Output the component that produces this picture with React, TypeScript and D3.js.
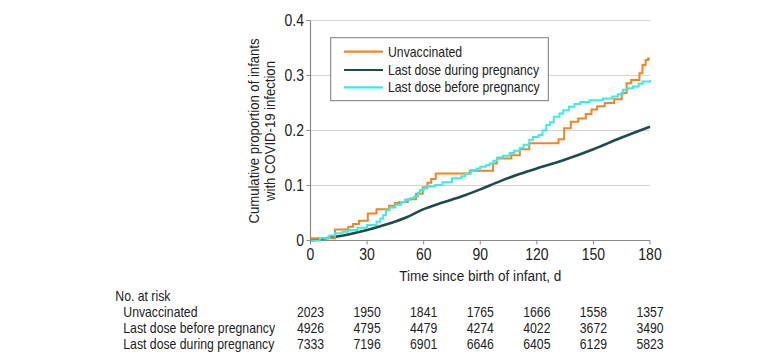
import React from "react";
import * as d3 from "d3";

type Pt = [number, number];

const xTicks = [0, 30, 60, 90, 120, 150, 180];
const yTicks = [0, 0.1, 0.2, 0.3, 0.4];

// [day, cumulative proportion]
const unvaccinated: Pt[] = [
  [0, 0.004], [13, 0.02], [20, 0.025], [22.5, 0.03], [25.7, 0.036], [30.4, 0.049],
  [35, 0.057], [41.6, 0.063], [44.7, 0.068], [47, 0.07], [51.6, 0.075], [56, 0.085],
  [59.5, 0.097], [62, 0.105], [64, 0.112], [66.4, 0.122], [84.5, 0.127], [96.8, 0.14],
  [98.8, 0.149], [106.5, 0.155], [111, 0.166], [116, 0.177], [131.5, 0.184],
  [134.5, 0.204], [138, 0.216], [142, 0.222], [146, 0.23], [149, 0.238], [152, 0.244],
  [156, 0.25], [161, 0.257], [165, 0.268], [167.6, 0.286], [170, 0.292], [174.4, 0.304],
  [176, 0.319], [177.7, 0.328], [179, 0.331], [180, 0.331],
];

const beforePregnancy: Pt[] = [
  [0, 0], [5, 0.004], [10, 0.009], [13, 0.013], [17, 0.016], [20, 0.019], [25, 0.023],
  [30, 0.028], [35, 0.034], [37, 0.04], [38.5, 0.046], [40, 0.055], [42, 0.06],
  [45, 0.065], [48, 0.07], [50, 0.074], [53, 0.077], [55, 0.08], [57, 0.087],
  [58, 0.092], [60, 0.095], [62, 0.098], [66, 0.101], [70, 0.106], [75, 0.113],
  [80, 0.117], [82, 0.122], [85, 0.128], [88, 0.131], [90, 0.134], [93, 0.137],
  [95, 0.14], [97, 0.145], [99, 0.151], [102, 0.154], [105.6, 0.159], [108, 0.163],
  [111, 0.168], [113, 0.174], [116, 0.183], [118, 0.188], [121, 0.192], [123, 0.2],
  [125, 0.21], [127, 0.215], [129, 0.225], [132, 0.231], [134, 0.237], [137, 0.243],
  [140, 0.248], [143, 0.252], [148, 0.255], [155, 0.258], [160, 0.262], [163, 0.266],
  [165.6, 0.274], [168, 0.277], [171, 0.28], [174, 0.285], [176, 0.289], [180, 0.292],
];

const duringPregnancy: Pt[] = [
  [0, 0], [10, 0.005], [20, 0.011], [30, 0.019], [40, 0.029], [50, 0.041], [60, 0.057],
  [70, 0.069], [80, 0.08], [90, 0.093], [100, 0.107], [110, 0.12], [120, 0.131],
  [134, 0.146], [150, 0.166], [164, 0.186], [180, 0.207],
];

const riskGroups = ["Unvaccinated", "Last dose before pregnancy", "Last dose during pregnancy"];
const riskUnvaccinated = [2023, 1950, 1841, 1765, 1666, 1558, 1357];
const riskBefore = [4926, 4795, 4479, 4274, 4022, 3672, 3490];
const riskDuring = [7333, 7196, 6901, 6646, 6405, 6129, 5823];

const legendLabels = ["Unvaccinated", "Last dose during pregnancy", "Last dose before pregnancy"];

const ORANGE = "#EE8623";
const DARK = "#1F4B4B";
const CYAN = "#3CEAEA";
const TEXT = "#222";
const SQUEEZE = 0.875; // no narrow font installed, so squeeze Liberation Sans

// condensed-looking text
const T: React.FC<{ x: number; y: number; anchor?: string; size?: number; children: React.ReactNode }> = ({ x, y, anchor, size, children }) => (
  <text transform={`translate(${x},${y}) scale(${SQUEEZE},1)`} textAnchor={anchor || "start"}
    fontSize={size || 14} fill={TEXT}>
    {children}
  </text>
);

const App: React.FC = () => {
  const width = 780;
  const height = 364;
  const x = d3.scaleLinear().domain([0, 180]).range([310.5, 650]);
  const y = d3.scaleLinear().domain([0, 0.4]).range([240.5, 20.5]);

  const stepLine = d3.line<Pt>().x((d) => x(d[0])).y((d) => y(d[1])).curve(d3.curveStepAfter);
  const smoothLine = d3.line<Pt>().x((d) => x(d[0])).y((d) => y(d[1])).curve(d3.curveMonotoneX);

  const riskRows = [riskUnvaccinated, riskBefore, riskDuring];
  const rowBaselines = [316.5, 332.5, 348.5];
  const legendColors = [ORANGE, DARK, CYAN];
  const legendY = [51.7, 70, 87.3];

  return (
    <svg width={width} height={height} style={{ position: "absolute", left: 0, top: 0 }}
      fontFamily="'Liberation Sans', Arial, sans-serif" fontSize={14}>
      {yTicks.filter((t) => t > 0).map((t) => (
        <line key={"g" + t} x1={x(0)} x2={x(180)} y1={y(t)} y2={y(t)} stroke="#d3d3d3" strokeWidth={1} />
      ))}

      {/* axes */}
      <line x1={x(0)} x2={x(0)} y1={y(0.4)} y2={y(0)} stroke="#8a8a8a" strokeWidth={1.2} />
      <line x1={x(0)} x2={x(180)} y1={y(0)} y2={y(0)} stroke="#8a8a8a" strokeWidth={1.2} />
      {yTicks.map((t) => (
        <g key={"y" + t}>
          <line x1={x(0) - 4} x2={x(0)} y1={y(t)} y2={y(t)} stroke="#8a8a8a" />
          <T x={304} y={y(t) + 5.7} anchor="end" size={16}>{t === 0 ? "0" : t.toFixed(1)}</T>
        </g>
      ))}
      {xTicks.map((t) => (
        <g key={"x" + t}>
          <line x1={x(t)} x2={x(t)} y1={y(0)} y2={y(0) + 4} stroke="#8a8a8a" />
          <T x={x(t)} y={260} anchor="middle" size={16}>{t}</T>
        </g>
      ))}
      <T x={(x(0) + x(180)) / 2} y={281} anchor="middle" size={15.5}>Time since birth of infant, d</T>
      <g transform={`translate(259,131) rotate(-90) scale(${SQUEEZE},1)`} fontSize={15}>
        <text textAnchor="middle" fill={TEXT}>Cumulative proportion of infants</text>
        <text y={16.5} textAnchor="middle" fill={TEXT}>with COVID-19 infection</text>
      </g>

      {/* curves */}
      <path d={smoothLine(duringPregnancy) || ""} fill="none" stroke={DARK} strokeWidth={2.6} />
      <path d={stepLine(unvaccinated) || ""} fill="none" stroke={ORANGE} strokeWidth={2} />
      <path d={stepLine(beforePregnancy) || ""} fill="none" stroke={CYAN} strokeWidth={2} />

      {/* legend */}
      <rect x={330.7} y={37.7} width={217.6} height={63} fill="#fff" stroke="#7a7a7a" strokeWidth={1} />
      {legendLabels.map((l, i) => (
        <g key={l}>
          <line x1={344} x2={383} y1={legendY[i]} y2={legendY[i]} stroke={legendColors[i]} strokeWidth={2.2} />
          <T x={388} y={legendY[i] + 5}>{l}</T>
        </g>
      ))}

      {/* number at risk */}
      <T x={115.3} y={300.5}>No. at risk</T>
      {riskGroups.map((g, i) => (
        <g key={g}>
          <T x={123.3} y={rowBaselines[i]}>{g}</T>
          {riskRows[i].map((v, j) => (
            <T key={j} x={x(xTicks[j])} y={rowBaselines[i]} anchor="middle">{v}</T>
          ))}
        </g>
      ))}
    </svg>
  );
};

export default App;
